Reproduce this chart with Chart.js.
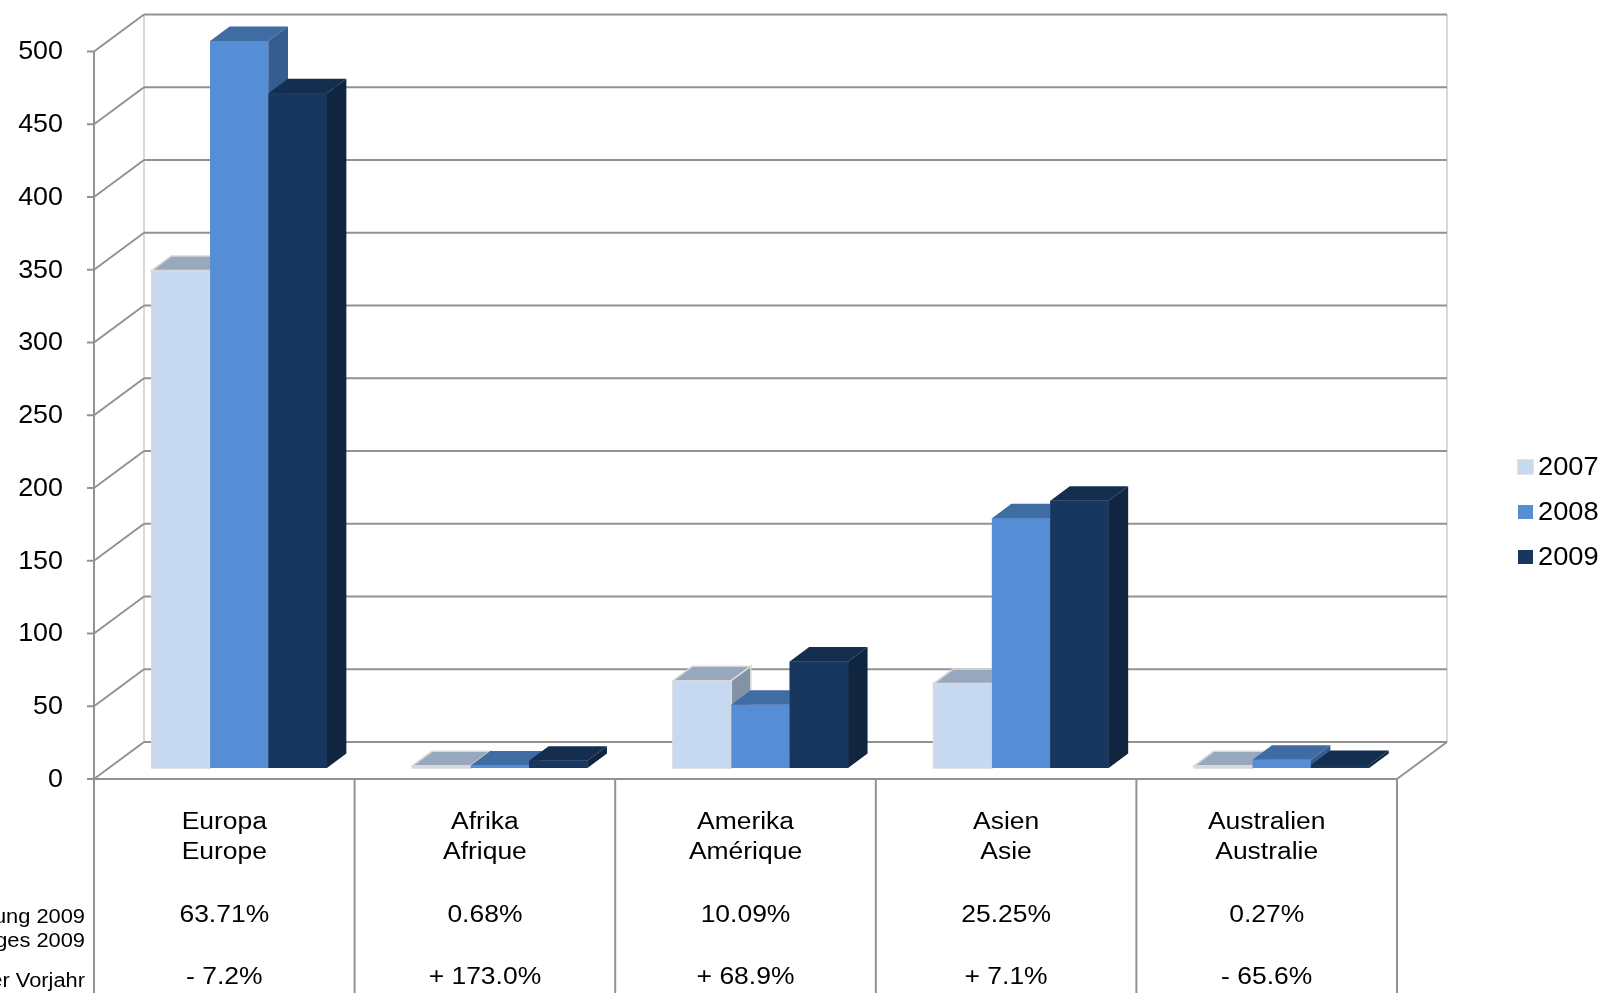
<!DOCTYPE html>
<html><head><meta charset="utf-8">
<script src="https://cdn.jsdelivr.net/npm/chart.js@4.4.1/dist/chart.umd.min.js"></script>
<style>html,body{margin:0;padding:0;background:#fff;overflow:hidden}#wrap{width:1598px;height:993px}</style>
</head><body><div id="wrap"><canvas id="c" width="1598" height="993"></canvas></div>
<script>
const categoriesDe = ['Europa', 'Afrika', 'Amerika', 'Asien', 'Australien'];
const categoriesFr = ['Europe', 'Afrique', 'Amérique', 'Asie', 'Australie'];
const seriesLabels = ['2007', '2008', '2009'];
const values2007 = [342, 1.5, 60, 58, 1.5];
const values2008 = [499.7, 1.8, 43.4, 171.6, 5.7];
const values2009 = [463.7, 4.9, 73.2, 183.7, 2.0];
const share2009 = ['63.71%', '0.68%', '10.09%', '25.25%', '0.27%'];
const changeVsPrev = ['- 7.2%', '+ 173.0%', '+ 68.9%', '+ 7.1%', '- 65.6%'];
const yTicks = [0, 50, 100, 150, 200, 250, 300, 350, 400, 450, 500];
const rowLabels = ['ung 2009', 'ges 2009', 'er Vorjahr'];

const FRONT = {dx: -15, dy: 11};
const BACK = {dx: 35, dy: -26};
const DEPTH = {dx: 19.5, dy: -14.5};
const FONT = "'Liberation Sans', Arial, sans-serif";
const faces = [
  {front: '#c6d9f1', top: '#98a9bf', side: '#8393a6', edge: '#d9d9d9'},
  {front: '#558ed5', top: '#3f6ca3', side: '#365d8f', edge: null},
  {front: '#17375e', top: '#132e4f', side: '#10253f', edge: null}
];

function line(ctx, x1, y1, x2, y2) { ctx.beginPath(); ctx.moveTo(x1, y1); ctx.lineTo(x2, y2); ctx.stroke(); }
function poly(ctx, pts, fill, edge) {
  ctx.beginPath(); ctx.moveTo(pts[0][0], pts[0][1]);
  for (let i = 1; i < pts.length; i++) ctx.lineTo(pts[i][0], pts[i][1]);
  ctx.closePath(); ctx.fillStyle = fill; ctx.fill();
  if (edge) { ctx.strokeStyle = edge; ctx.lineWidth = 1.5; ctx.stroke(); }
}
function sText(ctx, text, x, y, sx, align) {
  ctx.save(); ctx.translate(x, y); ctx.scale(sx, 1); ctx.textAlign = align;
  ctx.fillText(text, 0, 0); ctx.restore();
}

const threeD = {
  id: 'threeD',
  beforeDatasetsDraw(chart) {
    const ctx = chart.ctx, ca = chart.chartArea, ys = chart.scales.y, xs = chart.scales.x;
    const yf = v => ys.getPixelForValue(v) + FRONT.dy;
    const yb = v => ys.getPixelForValue(v) + BACK.dy;
    const fl = ca.left + FRONT.dx, fr = ca.right + FRONT.dx;
    const bl = ca.left + BACK.dx, br = ca.right + BACK.dx;
    const top = yTicks[yTicks.length - 1];
    ctx.save();
    ctx.lineWidth = 2;
    ctx.strokeStyle = '#d9d9d9';
    line(ctx, bl, yb(top), bl, yb(0));
    line(ctx, br, yb(top), br, yb(0));
    ctx.strokeStyle = '#929292';
    yTicks.forEach(v => {
      line(ctx, fl, yf(v), bl, yb(v));
      line(ctx, bl, yb(v), br, yb(v));
      line(ctx, fl - 7, yf(v), fl, yf(v));
    });
    line(ctx, fl, yf(top), fl, chart.height);
    line(ctx, fl, yf(0), fr, yf(0));
    line(ctx, fr, yf(0), br, yb(0));
    const n = categoriesDe.length, cw = (fr - fl) / n;
    for (let k = 1; k <= n; k++) line(ctx, fl + k * cw, yf(0), fl + k * cw, chart.height);
    // tick labels
    ctx.fillStyle = '#000';
    ctx.font = '25px ' + FONT;
    ctx.textBaseline = 'middle';
    yTicks.forEach(v => sText(ctx, String(v), 63, yf(v) + 1, 1.075, 'right'));
    // table texts
    const base0 = yf(0);
    ctx.font = '23px ' + FONT;
    ctx.textBaseline = 'alphabetic';
    for (let j = 0; j < n; j++) {
      const cx = xs.getPixelForValue(j) + FRONT.dx;
      sText(ctx, categoriesDe[j], cx, base0 + 50, 1.15, 'center');
      sText(ctx, categoriesFr[j], cx, base0 + 80, 1.15, 'center');
      sText(ctx, share2009[j], cx, base0 + 143, 1.15, 'center');
      sText(ctx, changeVsPrev[j], cx, base0 + 205, 1.15, 'center');
    }
    ctx.font = '19.5px ' + FONT;
    sText(ctx, rowLabels[0], 85, base0 + 144, 1.12, 'right');
    sText(ctx, rowLabels[1], 85, base0 + 168, 1.12, 'right');
    sText(ctx, rowLabels[2], 85, base0 + 208, 1.12, 'right');
    // legend
    ctx.font = '25px ' + FONT;
    ctx.textBaseline = 'middle';
    seriesLabels.forEach((s, i) => {
      const cy = 467 + i * 45;
      ctx.fillStyle = faces[i].front;
      ctx.fillRect(1518, cy - 7, 15, 14);
      if (faces[i].edge) { ctx.strokeStyle = faces[i].edge; ctx.lineWidth = 1.5; ctx.strokeRect(1518, cy - 7, 15, 14); }
      ctx.fillStyle = '#000';
      sText(ctx, s, 1538, cy + 1, 1.09, 'left');
    });
    ctx.restore();
  },
  afterDatasetsDraw(chart) {
    const ctx = chart.ctx;
    const metas = seriesLabels.map((s, i) => chart.getDatasetMeta(i));
    ctx.save();
    for (let j = 0; j < categoriesDe.length; j++) {
      for (let i = 0; i < metas.length; i++) {
        const el = metas[i].data[j];
        const p = el.getProps(['x', 'y', 'base', 'width'], true);
        const l = p.x - p.width / 2, r = p.x + p.width / 2, t = p.y, b = p.base;
        const f = faces[i];
        poly(ctx, [[l, t], [r, t], [r, b], [l, b]], f.front, f.edge);
        poly(ctx, [[l, t], [r, t], [r + DEPTH.dx, t + DEPTH.dy], [l + DEPTH.dx, t + DEPTH.dy]], f.top, f.edge);
        poly(ctx, [[r, t], [r + DEPTH.dx, t + DEPTH.dy], [r + DEPTH.dx, b + DEPTH.dy], [r, b]], f.side, f.edge);
      }
    }
    ctx.restore();
  }
};

const seriesValues = [values2007, values2008, values2009];
new Chart(document.getElementById('c'), {
  type: 'bar',
  data: {
    labels: categoriesDe,
    datasets: seriesLabels.map((s, i) => ({
      label: s,
      data: seriesValues[i],
      backgroundColor: faces[i].front,
      borderWidth: 0,
      categoryPercentage: 0.672,
      barPercentage: 1.0
    }))
  },
  options: {
    responsive: false,
    devicePixelRatio: 1,
    animation: false,
    layout: {padding: {left: 109, right: 186, top: 40.5, bottom: 225}},
    plugins: {legend: {display: false}, tooltip: {enabled: false}},
    scales: {
      x: {display: false},
      y: {display: false, min: 0, max: 500, ticks: {stepSize: 50}}
    }
  },
  plugins: [threeD]
});
</script>
</body></html>
